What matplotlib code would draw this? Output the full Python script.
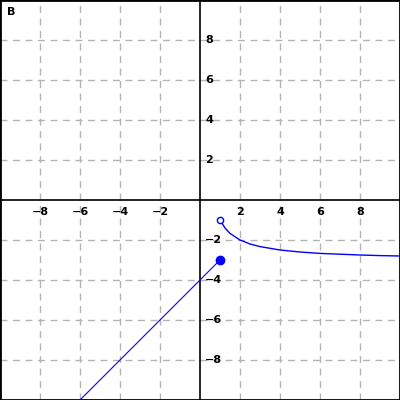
import matplotlib
matplotlib.use("Agg")
import matplotlib.pyplot as plt

# line piece (left branch)
line_x = [-6, 1]
line_y = [-10, -3]

# curved piece (right branch)
curve_x = [1, 1.25, 1.5, 2, 2.5, 3, 4, 5, 6, 7, 8, 9, 10]
curve_y = [-1, -1.4, -1.67, -2, -2.2, -2.33, -2.5, -2.6, -2.67, -2.71, -2.75, -2.78, -2.8]

# end points
closed_pt = (1, -3)
open_pt = (1, -1)

tick_vals = [-8, -6, -4, -2, 2, 4, 6, 8]
panel_label = "B"

fig = plt.figure(figsize=(4, 4), dpi=100)
ax = fig.add_axes([0, 0, 1, 1])
ax.set_xlim(-10, 10)
ax.set_ylim(-10, 10)

# grid
for v in tick_vals:
    ax.axvline(v, color="#b4b4b4", linestyle=(0, (5, 4)), linewidth=1, zorder=1)
    ax.axhline(v, color="#b4b4b4", linestyle=(0, (5, 4)), linewidth=1, zorder=1)

# axes through origin
ax.axvline(0, color="black", linewidth=1.2, zorder=2)
ax.axhline(0, color="black", linewidth=1.2, zorder=2)

ax.set_xticks([])
ax.set_yticks([])
for s in ax.spines.values():
    s.set_color("black")
    s.set_linewidth(2)

# tick labels
for v in tick_vals:
    lab = str(v).replace("-", "\u2212")
    ax.text(v, -0.6, lab, ha="center", va="center",
            fontsize=8, fontweight="bold", zorder=3)
    ax.text(0.25, v, lab, ha="left", va="center",
            fontsize=8, fontweight="bold", zorder=3)

# function pieces
ax.plot(line_x, line_y, color="blue", linewidth=0.8, zorder=4)
ax.plot(curve_x, curve_y, color="blue", linewidth=1, zorder=4)
ax.plot(*closed_pt, "o", color="blue", markersize=6, zorder=5)
ax.plot(*open_pt, "o", markerfacecolor="white", markeredgecolor="blue",
        markersize=4.5, markeredgewidth=1, zorder=5)

ax.text(-9.65, 9.4, panel_label, ha="left", va="center", fontsize=8,
        fontweight="bold")

fig.savefig("out.png", dpi=100)
